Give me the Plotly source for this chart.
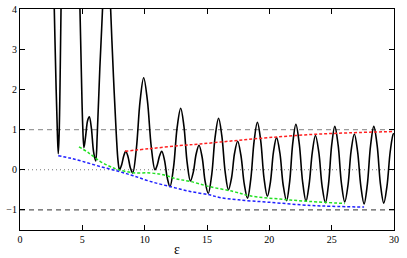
import plotly.graph_objects as go

# ---- data ----
eps_black = [
    2.62, 2.75, 2.90, 3.00, 3.07, 3.14, 3.22, 3.29, 3.40,
    4.68, 4.81, 4.93, 5.03, 5.13, 5.27, 5.42, 5.56, 5.72, 5.90, 6.07,
    6.20, 6.40, 6.62, 6.80, 7.10, 7.27, 7.50, 7.72, 7.87, 7.98,
    8.15, 8.32, 8.48, 8.66, 8.85, 9.04, 9.33, 9.63, 9.92,
    10.22, 10.53, 10.83, 11.01, 11.19, 11.37, 11.59, 11.81, 12.03,
    12.32, 12.60, 12.89, 13.15, 13.41, 13.67, 13.90, 14.13, 14.36,
    14.61, 14.85, 15.10, 15.38, 15.65, 15.93, 16.19, 16.46, 16.72,
    16.97, 17.21, 17.46, 17.72, 17.99, 18.25, 18.51, 18.78, 19.04,
    19.31, 19.57, 19.84, 20.09, 20.33, 20.58, 20.85, 21.11, 21.38,
    21.63, 21.88, 22.13, 22.40, 22.67, 22.94, 23.19, 23.45, 23.70,
    23.97, 24.23, 24.50, 24.75, 25.00, 25.25, 25.52, 25.78, 26.05,
    26.31, 26.56, 26.82, 27.08, 27.34, 27.60, 27.86, 28.12, 28.38,
    28.65, 28.91, 29.18, 29.44, 29.70, 29.95, 30.00,
]
y_black = [
    6.0, 4.0, 2.0, 0.9, 0.40, 0.9, 2.3, 4.0, 6.0,
    6.0, 4.0, 2.3, 1.1, 0.55, 0.85, 1.22, 1.32, 1.05, 0.45, 0.22,
    0.9, 2.5, 4.0, 5.5, 5.5, 4.0, 2.3, 0.9, 0.2, 0.0,
    0.12, 0.34, 0.46, 0.33, 0.05, -0.08, 0.51, 1.70, 2.29,
    1.72, 0.57, 0.0, 0.12, 0.34, 0.46, 0.24, -0.20, -0.42,
    0.07, 1.04, 1.53, 1.08, 0.17, -0.28, -0.06, 0.39, 0.61,
    0.31, -0.29, -0.59, -0.12, 0.81, 1.28, 0.84, -0.06, -0.50,
    -0.20, 0.41, 0.71, 0.36, -0.36, -0.71, -0.24, 0.71, 1.18,
    0.72, -0.20, -0.66, -0.30, 0.44, 0.80, 0.41, -0.38, -0.77,
    -0.30, 0.66, 1.13, 0.65, -0.30, -0.78, -0.37, 0.44, 0.85,
    0.43, -0.40, -0.82, -0.35, 0.61, 1.08, 0.61, -0.33, -0.80,
    -0.38, 0.47, 0.89, 0.45, -0.41, -0.85, -0.37, 0.60, 1.08,
    0.60, -0.35, -0.83, -0.40, 0.46, 0.89, 0.89,
]

eps_red = [8.42, 10.43, 12.83, 14.44, 17.10, 20.00, 23.26, 26.50, 30.00]
y_red = [0.46, 0.525, 0.60, 0.64, 0.72, 0.80, 0.875, 0.92, 0.95]

eps_green = [4.73, 5.50, 6.42, 7.22, 7.89, 9.09, 10.43, 11.50, 12.57,
             13.64, 15.20, 17.10, 18.44, 20.85, 23.26, 26.06]
y_green = [0.57, 0.42, 0.21, 0.08, 0.0, -0.075, -0.08, -0.125, -0.23,
           -0.29, -0.42, -0.54, -0.65, -0.73, -0.79, -0.84]

eps_blue = [3.07, 4.00, 5.00, 6.42, 7.89, 9.09, 10.43, 12.04, 13.64,
            15.20, 16.00, 17.50, 20.00, 23.30, 25.00, 27.60]
y_blue = [0.35, 0.29, 0.21, 0.08, -0.04, -0.15, -0.29, -0.42, -0.54,
          -0.625, -0.69, -0.75, -0.81, -0.89, -0.91, -0.93]

ref_levels = [1, 0, -1]
ref_colors = ["#9a9a9a", "#7a7a7a", "#5a5a5a"]
ref_dashes = ["5px,4px", "1px,3px", "5px,4px"]

x_ticks = [0, 5, 10, 15, 20, 25, 30]
y_ticks = [-1, 0, 1, 2, 3, 4]
x_title = "ε"
x_title_pos = 12.58

fig = go.Figure()

for lvl, col, dsh in zip(ref_levels, ref_colors, ref_dashes):
    fig.add_trace(go.Scatter(x=[0, 30], y=[lvl, lvl], mode="lines",
                             line=dict(color=col, width=1.2, dash=dsh),
                             hoverinfo="skip", showlegend=False))

fig.add_trace(go.Scatter(x=eps_black, y=y_black, mode="lines",
                         line=dict(color="black", width=1.6, shape="spline", smoothing=1.0),
                         showlegend=False))
fig.add_trace(go.Scatter(x=eps_red, y=y_red, mode="lines",
                         line=dict(color="#ff2020", width=1.5, dash="3px,2px", shape="spline"),
                         showlegend=False))
fig.add_trace(go.Scatter(x=eps_green, y=y_green, mode="lines",
                         line=dict(color="#22e022", width=1.5, dash="3px,2px", shape="spline"),
                         showlegend=False))
fig.add_trace(go.Scatter(x=eps_blue, y=y_blue, mode="lines",
                         line=dict(color="#2020ff", width=1.5, dash="3px,2px", shape="spline"),
                         showlegend=False))

serif = "Liberation Serif, Times New Roman, serif"
axis_font = dict(family=serif, size=10, color="black")
fig.update_layout(
    width=407, height=258,
    margin=dict(l=20, r=13, t=9, b=28, autoexpand=False),
    paper_bgcolor="white", plot_bgcolor="white",
    font=dict(family=serif, size=10, color="black"),
    xaxis=dict(range=[0, 30], tickvals=x_ticks, ticks="inside", ticklen=5,
               tickcolor="black", showline=True, linecolor="black", linewidth=1,
               mirror="ticks", showgrid=False, zeroline=False, tickfont=axis_font,
               automargin=False),
    yaxis=dict(range=[-1.5, 4], tickvals=y_ticks, ticks="inside", ticklen=5,
               tickcolor="black", showline=True, linecolor="black", linewidth=1,
               mirror="ticks", showgrid=False, zeroline=False, tickfont=axis_font,
               automargin=False),
    annotations=[dict(text=x_title, x=x_title_pos, xref="x", y=0, yref="paper",
                      yanchor="middle", xanchor="center", yshift=-19, showarrow=False,
                      font=dict(family=serif, size=14, color="black"))],
)

fig.write_html(
    "out.html",
    config={"displayModeBar": False},
    post_script="document.body.style.margin='0';document.body.style.padding='0';",
)
